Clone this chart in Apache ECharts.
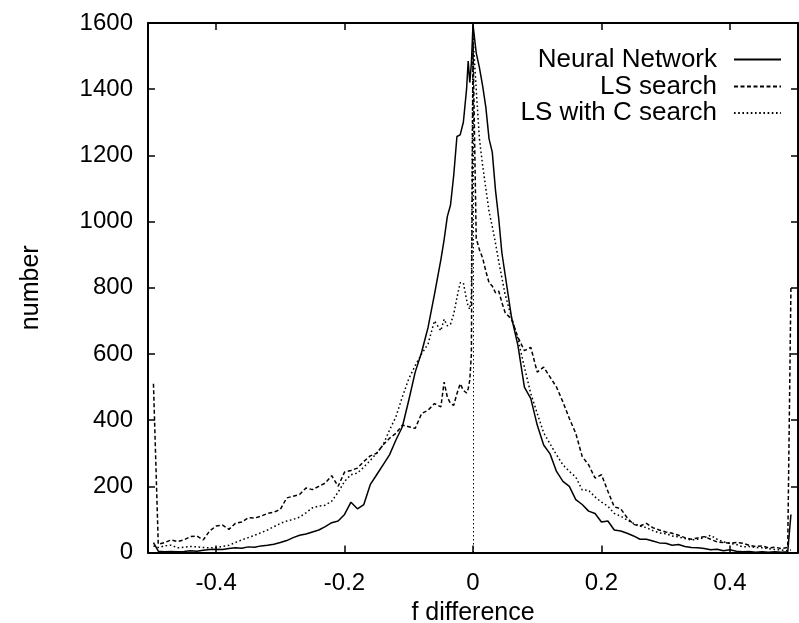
<!DOCTYPE html>
<html>
<head>
<meta charset="utf-8">
<script src="https://cdn.jsdelivr.net/npm/echarts@6/dist/echarts.min.js"></script>
<style>html,body{margin:0;padding:0;background:#fff}#c{width:799px;height:623px}</style>
</head>
<body>
<div id="c"></div>
<script>
// bin positions (f difference)
var xs = [-0.4975,
 -0.49,-0.48,-0.47,-0.46,-0.45,-0.44,-0.43,-0.42,-0.41,
 -0.40,-0.39,-0.38,-0.37,-0.36,-0.35,-0.34,-0.33,-0.32,-0.31,
 -0.30,-0.29,-0.28,-0.27,-0.26,-0.25,-0.24,-0.23,-0.22,-0.21,
 -0.20,-0.19,-0.18,-0.17,-0.16,-0.15,-0.14,-0.13,-0.12,-0.11,
 -0.10,-0.09,-0.08,-0.07,-0.06,
 -0.05,-0.045,-0.04,-0.035,-0.03,-0.025,-0.02,-0.015,-0.01,-0.0075,-0.005,-0.0025,
 0,
 0.005,0.01,0.015,0.02,0.025,0.03,0.035,0.04,0.045,0.05,
 0.06,0.07,0.08,0.09,0.10,
 0.11,0.12,0.13,0.14,0.15,0.16,0.17,0.18,0.19,0.20,
 0.21,0.22,0.23,0.24,0.25,0.26,0.27,0.28,0.29,0.30,
 0.31,0.32,0.33,0.34,0.35,0.36,0.37,0.38,0.39,0.40,
 0.41,0.42,0.43,0.44,0.45,0.46,0.47,0.48,0.49,
 0.495];

var neuralNetwork = [30,
 4,2,3,2,3,5,4,7,9,
 10,9,12,14,13,17,16,20,22,25,
 30,36,45,52,56,62,68,78,90,95,
 115,152,132,145,205,235,265,295,340,380,
 460,545,605,680,780,
 885,945,1015,1050,1140,1257,1262,1300,1400,1485,1420,1480,
 1595,
 1510,1465,1410,1345,1250,1210,1095,1010,905,840,
 710,625,500,465,385,
 325,298,245,215,200,160,145,125,118,92,
 95,68,65,58,50,40,40,35,29,28,
 22,24,18,15,14,12,8,10,5,8,
 4,2,3,1,2,1,2,1,2,
 115];

var lsSearch = [510,
 25,30,38,33,38,48,50,38,65,
 80,83,70,88,92,105,104,110,118,122,
 130,165,170,175,195,190,200,210,232,200,
 243,248,255,275,292,300,325,345,360,385,
 380,375,420,430,450,
 440,515,470,450,445,480,510,490,482,495,521,600,
 1540,
 950,915,890,850,815,805,785,790,755,725,
 705,650,610,620,545,
 560,530,500,455,405,360,290,265,225,235,
 185,138,132,105,85,80,88,75,68,62,
 58,52,45,40,44,48,40,32,30,28,
 30,28,22,18,20,14,16,12,15,
 800];

var lsWithC = [20,
 15,20,22,14,16,18,17,15,14,
 15,18,22,30,38,45,52,60,68,78,
 88,95,100,107,120,135,140,143,155,182,
 215,235,240,258,278,300,325,370,410,470,
 525,565,600,630,700,
 670,705,685,690,720,770,815,815,764,743,735,773,
 1560,
 1400,1250,1170,1100,1030,985,935,880,830,780,
 710,645,560,480,420,
 362,328,295,265,245,228,189,188,168,152,
 140,118,110,98,88,80,75,66,59,57,
 50,47,42,38,40,45,52,40,32,28,
 24,17,18,15,14,12,9,8,5,
 8];

var seriesNames = ['Neural Network', 'LS search', 'LS with C search'];
var xTickValues = [-0.4, -0.2, 0, 0.2, 0.4];

function pairs(vals) { return xs.map(function (x, i) { return [x, vals[i]]; }); }

var FONT = "'Liberation Sans', Arial, Helvetica, sans-serif";
var chart = echarts.init(document.getElementById('c'), null, {renderer: 'canvas'});

function legendFor(name, top) {
  return {
    data: [name], orient: 'vertical', right: 17, top: top, padding: 0,
    align: 'right', itemWidth: 47, itemHeight: 14, selectedMode: false,
    itemStyle: {opacity: 0},
    textStyle: {fontFamily: FONT, fontSize: 26, color: '#000', lineHeight: 26, padding: [0, 12, 0, 0]}
  };
}

var axisLineStyle = {show: true, onZero: false, lineStyle: {color: '#000', width: 2}};
var tickStyle = {show: true, inside: true, length: 7, lineStyle: {color: '#000', width: 1.5}};

var option = {
  animation: false,
  backgroundColor: '#fff',
  grid: {left: 148, right: 1, top: 23, bottom: 70.5, containLabel: false, outerBoundsMode: 'none'},
  legend: [legendFor(seriesNames[0], 46.5), legendFor(seriesNames[1], 73.5), legendFor(seriesNames[2], 100)],
  xAxis: [{
    type: 'value', position: 'bottom', min: -0.506, max: 0.506,
    axisLine: axisLineStyle,
    axisTick: Object.assign({customValues: xTickValues}, tickStyle),
    axisLabel: {customValues: xTickValues, margin: 19, fontFamily: FONT, fontSize: 24, color: '#000',
      formatter: function (v) { return String(v); }},
    splitLine: {show: false},
    name: 'f difference', nameLocation: 'middle', nameGap: 44,
    nameTextStyle: {fontFamily: FONT, fontSize: 25, color: '#000'}
  }, {
    type: 'value', position: 'top', min: -0.506, max: 0.506,
    axisLine: axisLineStyle,
    axisTick: Object.assign({customValues: xTickValues}, tickStyle),
    axisLabel: {show: false}, splitLine: {show: false}
  }],
  yAxis: [{
    type: 'value', position: 'left', min: 0, max: 1600, interval: 200,
    axisLine: axisLineStyle, axisTick: tickStyle,
    axisLabel: {margin: 15, fontFamily: FONT, fontSize: 24, color: '#000',
      formatter: function (v) { return String(v); }},
    splitLine: {show: false},
    name: 'number', nameLocation: 'middle', nameGap: 104,
    nameTextStyle: {fontFamily: FONT, fontSize: 25, color: '#000'}
  }, {
    type: 'value', position: 'right', min: 0, max: 1600, interval: 200,
    axisLine: axisLineStyle, axisTick: tickStyle,
    axisLabel: {show: false}, splitLine: {show: false}
  }],
  series: [{
    name: seriesNames[0], type: 'line', symbol: 'none', showSymbol: false,
    data: pairs(neuralNetwork), z: 4,
    lineStyle: {color: '#000', width: 1.5, type: 'solid'}, itemStyle: {color: '#000'},
    markLine: {
      silent: true, symbol: ['none', 'none'], label: {show: false},
      lineStyle: {color: '#000', width: 1, type: [1.5, 2.5]},
      data: [{xAxis: 0}]
    }
  }, {
    name: seriesNames[1], type: 'line', symbol: 'none', showSymbol: false,
    data: pairs(lsSearch), z: 3,
    lineStyle: {color: '#000', width: 1.5, type: [4, 2.5]}, itemStyle: {color: '#000'}
  }, {
    name: seriesNames[2], type: 'line', symbol: 'none', showSymbol: false,
    data: pairs(lsWithC), z: 2,
    lineStyle: {color: '#000', width: 1.5, type: [1.6, 2.6]}, itemStyle: {color: '#000'}
  }]
};
chart.setOption(option);
</script>
</body>
</html>
